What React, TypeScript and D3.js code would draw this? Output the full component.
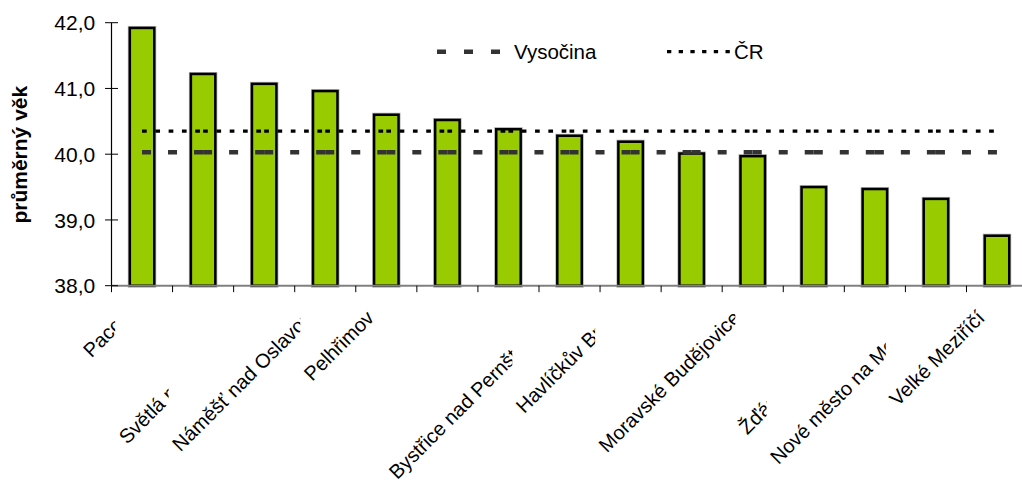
import React, { useEffect, useRef } from 'react';
import * as d3 from 'd3';

const categories = [
  'Pacov',
  'Telč',
  'Světlá nad Sázavou',
  'Náměšť nad Oslavou',
  'Pelhřimov',
  'Třebíč',
  'Humpolec',
  'Bystřice nad Pernštejnem',
  'Havlíčkův Brod',
  'Chotěboř',
  'Moravské Budějovice',
  'Jihlava',
  'Žďár nad Sázavou',
  'Nové město na Moravě',
  'Velké Meziříčí',
];
const values = [41.92, 41.22, 41.07, 40.96, 40.6, 40.52, 40.38, 40.28, 40.19, 40.01, 39.97, 39.5, 39.47, 39.32, 38.76];
const vysocinaValue = 40.03;
const crValue = 40.35;
const yTicks = [38, 39, 40, 41, 42];
const legendLabels = ['Vysočina', 'ČR'];
const yTitle = 'průměrný věk';

const W = 1022;
const H = 484;
const FONT = "'Liberation Sans', Arial, Helvetica, sans-serif";
const FS = 21;
const FS_CAT = 20;
const FS_LEG = 20.5;

export default function App() {
  const ref = useRef<SVGSVGElement>(null);

  useEffect(() => {
    const svg = d3.select(ref.current);
    svg.selectAll('*').remove();

    const x0 = 111.5;
    const step = 61.07;
    const x = d3
      .scaleBand<string>()
      .domain(categories)
      .range([x0, x0 + step * categories.length]);
    const y = d3.scaleLinear().domain([38, 42]).range([285.7, 22.7]);
    const cx = (c: string) => (x(c) as number) + x.bandwidth() / 2;
    const barW = x.bandwidth() * 0.4;
    const yBase = y(38);

    // bars
    const bars = svg.append('g');
    bars
      .selectAll('rect.halo')
      .data(values)
      .join('rect')
      .attr('class', 'halo')
      .attr('x', (d, i) => cx(categories[i]) - barW / 2)
      .attr('y', (d) => y(d))
      .attr('width', barW)
      .attr('height', (d) => yBase - y(d))
      .attr('fill', 'none')
      .attr('stroke', '#b0b0b0')
      .attr('stroke-width', 4);
    bars
      .selectAll('rect.bar')
      .data(values)
      .join('rect')
      .attr('class', 'bar')
      .attr('x', (d, i) => cx(categories[i]) - barW / 2)
      .attr('y', (d) => y(d))
      .attr('width', barW)
      .attr('height', (d) => yBase - y(d))
      .attr('fill', '#99CC00')
      .attr('stroke', '#000')
      .attr('stroke-width', 2.5);

    // x axis
    svg
      .append('line')
      .attr('x1', x0)
      .attr('x2', W + 10)
      .attr('y1', yBase)
      .attr('y2', yBase)
      .attr('stroke', '#808080')
      .attr('stroke-width', 2);
    svg
      .append('g')
      .selectAll('line')
      .data(categories)
      .join('line')
      .attr('x1', (c) => x(c) as number)
      .attr('x2', (c) => x(c) as number)
      .attr('y1', yBase)
      .attr('y2', yBase + 6.5)
      .attr('stroke', '#000')
      .attr('stroke-width', 1);

    // y axis
    svg
      .append('line')
      .attr('x1', x0)
      .attr('x2', x0)
      .attr('y1', y(42))
      .attr('y2', yBase)
      .attr('stroke', '#000')
      .attr('stroke-width', 1.2);
    const yt = svg.append('g');
    yt.selectAll('line')
      .data(yTicks)
      .join('line')
      .attr('x1', x0 - 6.5)
      .attr('x2', x0 + 6.5)
      .attr('y1', (d) => y(d))
      .attr('y2', (d) => y(d))
      .attr('stroke', '#000')
      .attr('stroke-width', 1);
    yt.selectAll('text')
      .data(yTicks)
      .join('text')
      .attr('x', 95.2)
      .attr('y', (d) => y(d))
      .attr('dy', '0.36em')
      .attr('text-anchor', 'end')
      .attr('font-family', FONT)
      .attr('font-size', FS)
      .attr('fill', '#000')
      .text((d) => d3.format('.1f')(d).replace('.', ','));

    // y title
    svg
      .append('text')
      .attr('transform', `translate(27,${(y(42) + yBase) / 2 + 0.5}) rotate(-90)`)
      .attr('text-anchor', 'middle')
      .attr('font-family', FONT)
      .attr('font-size', FS)
      .attr('font-weight', 'bold')
      .attr('fill', '#000')
      .text(yTitle);

    // reference lines (segments between category centres)
    const segs = categories.slice(0, -1).map((c, i) => [c, categories[i + 1]]);
    const lineGen = d3
      .line<[string, number]>()
      .x((d) => cx(d[0]))
      .y((d) => y(d[1]));
    const refG = svg.append('g');
    refG
      .selectAll('path.vys')
      .data(segs)
      .join('path')
      .attr('class', 'vys')
      .attr('d', (s) => lineGen([[s[0], vysocinaValue], [s[1], vysocinaValue]]))
      .attr('fill', 'none')
      .attr('stroke', '#333333')
      .attr('stroke-width', 4.6)
      .attr('stroke-dasharray', '9,17');
    refG
      .selectAll('path.cr')
      .data(segs)
      .join('path')
      .attr('class', 'cr')
      .attr('d', (s) => lineGen([[s[0], crValue], [s[1], crValue]]))
      .attr('fill', 'none')
      .attr('stroke', '#000')
      .attr('stroke-width', 3.2)
      .attr('stroke-dasharray', '4.7,8.6');

    // legend
    const lg = svg.append('g');
    const ly = 51.7;
    lg.append('line')
      .attr('x1', 437)
      .attr('x2', 500)
      .attr('y1', ly)
      .attr('y2', ly)
      .attr('stroke', '#333333')
      .attr('stroke-width', 4.6)
      .attr('stroke-dasharray', '9,18');
    lg.append('text')
      .attr('x', 514)
      .attr('y', ly)
      .attr('dy', '0.36em')
      .attr('font-family', FONT)
      .attr('font-size', FS_LEG)
      .attr('fill', '#000')
      .text(legendLabels[0]);
    lg.append('line')
      .attr('x1', 667)
      .attr('x2', 733)
      .attr('y1', ly)
      .attr('y2', ly)
      .attr('stroke', '#000')
      .attr('stroke-width', 3.2)
      .attr('stroke-dasharray', '4.3,7.4');
    lg.append('text')
      .attr('x', 734)
      .attr('y', ly)
      .attr('dy', '0.36em')
      .attr('font-family', FONT)
      .attr('font-size', FS_LEG)
      .attr('fill', '#000')
      .text(legendLabels[1]);

    // category labels, drawn in order with opaque boxes (later cover earlier)
    const labG = svg.append('g');
    const k = Math.SQRT1_2;
    categories.forEach((c) => {
      const g = labG.append('g');
      const ex = cx(c) - 11.2;
      const ey = yBase + 33.4;
      const rect = g.append('rect').attr('fill', '#fff');
      const t = g
        .append('text')
        .attr('transform', `translate(${ex},${ey}) rotate(-45)`)
        .attr('text-anchor', 'end')
        .attr('font-family', FONT)
        .attr('font-size', FS_CAT)
        .attr('fill', '#000')
        .text(c);
      const L = (t.node() as SVGTextElement).getComputedTextLength();
      const sx = ex - L * k;
      const sy = ey + L * k;
      rect
        .attr('x', sx - 12)
        .attr('y', ey - 18)
        .attr('width', ex + 4 - (sx - 12))
        .attr('height', sy + 6 - (ey - 18));
    });
  }, []);

  return (
    <svg
      ref={ref}
      width={W}
      height={H}
      style={{ position: 'absolute', left: 0, top: 0, background: '#fff' }}
    />
  );
}
